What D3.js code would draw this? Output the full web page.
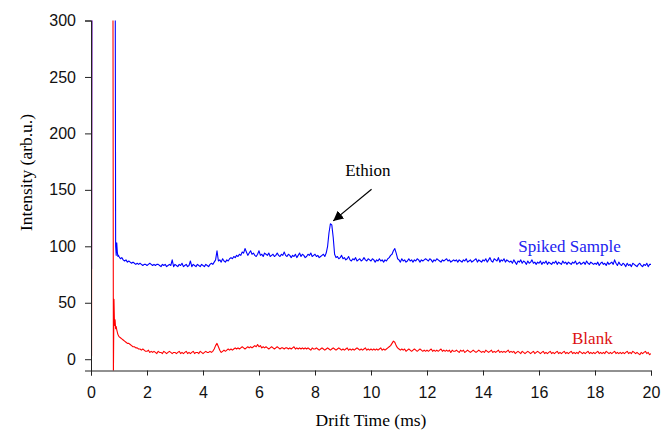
<!DOCTYPE html>
<html>
<head>
<meta charset="utf-8">
<script src="https://cdn.jsdelivr.net/npm/d3@7"></script>
<style>
    body { margin: 0; background: #fff; }
    .tick text { font-family: "Liberation Sans", Arial, sans-serif; font-size: 16px; fill: #111; }
    .axis-title { font-family: "Liberation Serif", "Times New Roman", serif; font-size: 17.5px; }
    .label { font-family: "Liberation Serif", "Times New Roman", serif; font-size: 17px; }
    .line { fill: none; stroke-width: 1.1; stroke-linejoin: round; }
</style>
</head>
<body>
<div id="chart"></div>
<script>
// drift times (ms) of the first, hand-picked samples of each trace
const spikedStartTime = [0, 0.02, 0.035, 0.84, 0.86, 0.88, 0.90, 0.92, 0.94, 0.96, 0.98];
const spikedStartValue = [80, 80, 420, 420, 420, 100, 92, 103, 95, 91, 92];
const blankStartTime = [0, 0.02, 0.03, 0.78, 0.80, 0.82, 0.84, 0.86, 0.88, 0.90, 0.92, 0.94, 0.96, 0.98];
const blankStartValue = [3, 3, 420, 420, -15, 53, 30, 35, 27, 29, 26, 24, 22, 21];

// after 1.00 ms the traces are sampled every 0.05 ms up to 20.00 ms
const baselineStart = 1.0;
const baselineStep = 0.05;

const spikedSample = [
    91, 89, 90, 88, 87, 88, 86, 87, 86, 85, 86, 85, 84, 85, 84, 85, 84, 83, 84, 84,
    83, 84, 85, 84, 83, 84, 83, 84, 84, 83, 82, 84, 83, 84, 82, 83, 84, 83, 88, 82,
    84, 83, 82, 84, 83, 85, 82, 83, 84, 82, 83, 87, 82, 84, 83, 82, 84, 83, 82, 84,
    83, 82, 84, 83, 82, 84, 85, 84, 86, 88, 96, 87, 88, 86, 89, 87, 86, 88, 87, 89,
    90, 89, 91, 90, 92, 91, 93, 92, 95, 94, 98, 95, 92, 94, 96, 93, 94, 92, 91, 93,
    96, 92, 93, 91, 94, 93, 92, 94, 91, 92, 93, 91, 92, 94, 92, 91, 93, 92, 95, 92,
    91, 93, 92, 90, 92, 91, 93, 90, 92, 94, 91, 93, 92, 90, 91, 93, 92, 94, 91, 92,
    93, 91, 92, 90, 91, 92, 93, 91, 94, 100, 112, 120, 119, 108, 93, 90, 91, 89, 90, 92,
    89, 90, 88, 89, 91, 88, 87, 89, 88, 90, 87, 88, 89, 87, 88, 90, 88, 87, 89, 88,
    87, 89, 88, 86, 88, 87, 89, 87, 88, 86, 88, 87, 89, 90, 92, 93, 96, 98, 94, 89,
    88, 86, 89, 87, 88, 86, 87, 89, 87, 88, 86, 88, 87, 89, 88, 86, 88, 87, 88, 89,
    88, 87, 89, 88, 86, 88, 87, 89, 88, 87, 86, 88, 87, 88, 89, 87, 88, 86, 87, 88,
    87, 88, 86, 88, 87, 86, 88, 87, 89, 86, 87, 88, 86, 87, 88, 89, 86, 88, 87, 86,
    88, 87, 89, 86, 88, 90, 87, 86, 89, 88, 87, 90, 86, 88, 87, 89, 86, 88, 87, 86,
    87, 85, 88, 86, 84, 87, 86, 88, 85, 87, 86, 84, 87, 85, 86, 88, 85, 86, 84, 86,
    85, 87, 84, 86, 85, 87, 84, 86, 85, 84, 86, 85, 87, 84, 86, 85, 84, 87, 85, 86,
    84, 86, 85, 84, 86, 85, 87, 84, 85, 86, 84, 85, 86, 84, 87, 85, 84, 86, 85, 84,
    85, 84, 86, 83, 85, 86, 84, 85, 83, 86, 84, 85, 86, 84, 88, 85, 83, 86, 84, 83,
    85, 84, 82, 85, 83, 84, 82, 85, 84, 83, 82, 84, 85, 83, 82, 84, 83, 85, 82, 84,
    84
];

const blank = [
    20, 19, 18, 17, 16, 15, 14, 14, 13, 12, 11, 11, 10, 10, 9, 9, 8, 9, 8, 7,
    7, 8, 6, 7, 6, 7, 6, 5, 7, 6, 6, 5, 7, 6, 5, 6, 7, 6, 5, 6,
    6, 5, 6, 7, 5, 6, 5, 6, 7, 5, 6, 5, 6, 7, 5, 6, 6, 5, 7, 6,
    5, 6, 7, 6, 6, 7, 6, 7, 9, 12, 14, 11, 8, 6, 7, 8, 7, 8, 9, 8,
    9, 8, 9, 10, 9, 10, 9, 10, 11, 10, 9, 10, 11, 10, 11, 10, 11, 12, 11, 13,
    11, 12, 10, 11, 10, 11, 10, 9, 10, 11, 10, 9, 10, 11, 10, 9, 10, 10, 9, 10,
    10, 9, 10, 9, 10, 11, 9, 10, 9, 10, 9, 10, 9, 10, 9, 10, 9, 8, 10, 9,
    9, 10, 9, 8, 9, 10, 9, 8, 9, 10, 9, 8, 9, 10, 9, 8, 9, 10, 9, 8,
    9, 8, 9, 10, 8, 9, 8, 9, 8, 9, 10, 9, 8, 9, 8, 9, 10, 8, 9, 8,
    9, 8, 9, 8, 9, 8, 9, 10, 8, 9, 8, 9, 10, 11, 12, 14, 16, 15, 12, 10,
    9, 8, 9, 8, 9, 7, 8, 9, 8, 7, 8, 9, 8, 7, 8, 9, 8, 7, 8, 7,
    8, 7, 8, 9, 7, 8, 7, 8, 7, 8, 9, 7, 8, 7, 8, 7, 8, 6, 8, 7,
    7, 8, 7, 6, 8, 7, 8, 6, 7, 8, 7, 6, 7, 8, 7, 6, 7, 8, 7, 6,
    7, 6, 8, 7, 6, 7, 8, 6, 7, 6, 7, 8, 6, 7, 6, 7, 6, 7, 8, 6,
    7, 6, 7, 5, 6, 7, 6, 5, 7, 6, 5, 6, 7, 6, 5, 6, 7, 5, 6, 7,
    6, 5, 6, 7, 5, 6, 5, 6, 7, 5, 6, 5, 6, 7, 5, 6, 5, 6, 7, 5,
    6, 5, 6, 7, 5, 6, 5, 6, 5, 7, 6, 5, 6, 5, 6, 7, 5, 6, 5, 6,
    5, 6, 7, 5, 6, 5, 6, 5, 7, 6, 5, 6, 5, 6, 7, 5, 6, 5, 6, 5,
    6, 5, 6, 7, 5, 6, 5, 7, 6, 5, 6, 5, 4, 6, 5, 6, 7, 5, 6, 4,
    5
];

const xTicks = [0, 2, 4, 6, 8, 10, 12, 14, 16, 18, 20];
const yTicks = [0, 50, 100, 150, 200, 250, 300];

function buildTrace(startTime, startValue, baseline) {
    let points = startTime.map((t, i) => ({ x: t, y: startValue[i] }));
    baseline.forEach((v, i) => {
        points.push({ x: baselineStart + i * baselineStep, y: v });
    });
    return points;
}

let margin = { top: 20.5, right: 11, bottom: 60.5, left: 91 },
    width = 662 - margin.left - margin.right,
    height = 431 - margin.top - margin.bottom;

let svg = d3.select("#chart")
    .append("svg")
    .attr("width", 662)
    .attr("height", 431)
    .append("g")
    .attr("transform", "translate(" + margin.left + "," + margin.top + ")");

let xScale = d3.scaleLinear().domain([0, 20]).range([0, width]);
let yScale = d3.scaleLinear().domain([-10, 300]).range([height, 0]);

svg.append("clipPath")
    .attr("id", "plotClip")
    .append("rect")
    .attr("width", width)
    .attr("height", height);

let lineGenerator = d3.line()
    .x(d => xScale(d.x))
    .y(d => yScale(d.y));

let traces = svg.append("g").attr("clip-path", "url(#plotClip)");

traces.append("path")
    .datum(buildTrace(blankStartTime, blankStartValue, blank))
    .attr("class", "line")
    .attr("stroke", "#ff0000")
    .attr("d", lineGenerator);

traces.append("path")
    .datum(buildTrace(spikedStartTime, spikedStartValue, spikedSample))
    .attr("class", "line")
    .attr("stroke", "#0000ff")
    .attr("d", lineGenerator);

// axes
let xAxis = svg.append("g")
    .attr("transform", "translate(0," + height + ")")
    .call(d3.axisBottom(xScale).tickValues(xTicks).tickSizeOuter(0).tickSize(5).tickPadding(11));

let yAxis = svg.append("g")
    .call(d3.axisLeft(yScale).tickValues(yTicks).tickSizeOuter(0).tickSize(6).tickPadding(9));

svg.selectAll(".domain, .tick line").attr("stroke", "#222");

svg.append("text")
    .attr("class", "axis-title")
    .attr("text-anchor", "middle")
    .attr("x", width / 2)
    .attr("y", 405)
    .text("Drift Time (ms)");

svg.append("text")
    .attr("class", "axis-title")
    .attr("text-anchor", "middle")
    .attr("transform", "rotate(-90)")
    .attr("x", -152)
    .attr("y", -59.5)
    .text("Intensity (arb.u.)");

// annotations
svg.append("text")
    .attr("class", "label")
    .attr("fill", "#2222f0")
    .attr("x", xScale(15.26))
    .attr("y", yScale(95.3))
    .text("Spiked Sample");

svg.append("text")
    .attr("class", "label")
    .attr("fill", "#dd1111")
    .attr("x", xScale(17.18))
    .attr("y", yScale(13.6))
    .text("Blank");

svg.append("text")
    .attr("class", "label")
    .attr("fill", "#000")
    .attr("x", xScale(9.89))
    .attr("y", yScale(162.7))
    .attr("text-anchor", "middle")
    .text("Ethion");

svg.append("defs").append("marker")
    .attr("id", "arrowHead")
    .attr("viewBox", "0 0 10 10")
    .attr("refX", 10)
    .attr("refY", 5)
    .attr("markerWidth", 10)
    .attr("markerHeight", 10)
    .attr("markerUnits", "userSpaceOnUse")
    .attr("orient", "auto")
    .append("path")
    .attr("d", "M0,0 L10,5 L0,10 z")
    .attr("fill", "#000");

svg.append("line")
    .attr("x1", xScale(10.02))
    .attr("y1", yScale(150.6))
    .attr("x2", xScale(8.65))
    .attr("y2", yScale(122.5))
    .attr("stroke", "#000")
    .attr("stroke-width", 1.2)
    .attr("marker-end", "url(#arrowHead)");
</script>
</body>
</html>
